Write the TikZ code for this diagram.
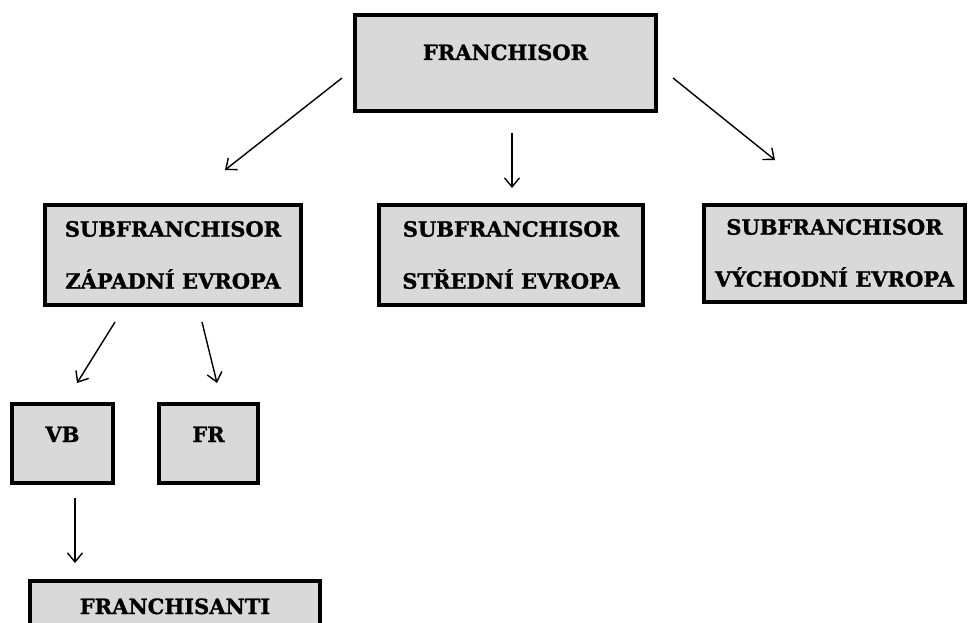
\documentclass[tikz,border=0pt]{standalone}
\usepackage{fontspec}
\setmainfont{DejaVu Serif}
\newfontfamily\boxfont{DejaVu Serif Bold}[FakeBold=1.2]
\usetikzlibrary{arrows.meta}
\definecolor{boxfill}{RGB}{217,217,217}
\tikzset{
  box/.style={draw=black, line width=4pt, fill=boxfill, rectangle, inner sep=0pt,
    font=\boxfont\fontsize{21}{52}\selectfont, align=center},
  conn/.style={draw=black, line width=1.4pt, -{Straight Barb[length=9pt,width=15pt]}}
}
\begin{document}
\begin{tikzpicture}[x=1pt,y=-1pt]
\useasboundingbox (0,0) rectangle (968,623);
\node[box, minimum width=301pt, minimum height=96pt, text height=15pt, text depth=21pt] (top) at (505.5,63) {FRANCHISOR};
\node[box, minimum width=256pt, minimum height=100pt] (zap) at (173,255) {SUBFRANCHISOR\\ZÁPADNÍ EVROPA};
\node[box, minimum width=264pt, minimum height=100pt] (str) at (511,255) {SUBFRANCHISOR\\STŘEDNÍ EVROPA};
\node[box, minimum width=261pt, minimum height=97pt] (vych) at (834.5,253) {SUBFRANCHISOR\\VÝCHODNÍ EVROPA};
\node[box, minimum width=101pt, minimum height=79pt, text height=15pt, text depth=18pt] (vb) at (62.5,443.5) {VB};
\node[box, minimum width=99pt, minimum height=79pt, text height=15pt, text depth=18pt] (fr) at (208.5,443.5) {FR};
\node[box, anchor=north, minimum width=290pt, text height=33pt, text depth=40pt] (fa) at (175,579) {FRANCHISANTI};
\coordinate (a1s) at (342,78);  \coordinate (a1e) at (225,170);
\coordinate (a2s) at (512,133); \coordinate (a2e) at (512,188);
\coordinate (a3s) at (673,78);  \coordinate (a3e) at (775,160);
\coordinate (a4s) at (115,322); \coordinate (a4e) at (77,383);
\coordinate (a5s) at (202,322); \coordinate (a5e) at (217,383);
\coordinate (a6s) at (75,498);  \coordinate (a6e) at (75,563);
\draw[conn] (a1s) -- (a1e);
\draw[conn] (a2s) -- (a2e);
\draw[conn] (a3s) -- (a3e);
\draw[conn] (a4s) -- (a4e);
\draw[conn] (a5s) -- (a5e);
\draw[conn] (a6s) -- (a6e);
\end{tikzpicture}
\end{document}
